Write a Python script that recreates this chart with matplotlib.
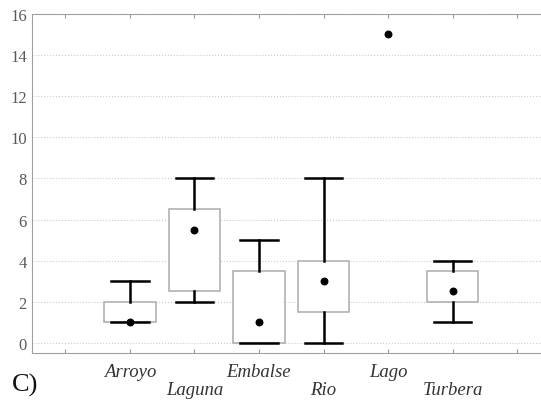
import matplotlib
matplotlib.use("Agg")
from matplotlib import pyplot as plt

cats = ["Arroyo", "Laguna", "Embalse", "Rio", "Lago", "Turbera"]
medians = [1, 5.5, 1, 3, 15, 2.5]
q1 = [1, 2.5, 0, 1.5, 15, 2]
q3 = [2, 6.5, 3.5, 4, 15, 3.5]
mins = [1, 2, 0, 0, 15, 1]
maxs = [3, 8, 5, 8, 15, 4]

pos = list(range(1, len(cats) + 1))

fig = plt.figure(figsize=(5.41, 4.02), dpi=100)
ax = fig.add_axes([0.06, 0.119, 0.94, 0.844])

stats = []
bpos = []
for i in range(len(cats)):
    # a group with a single value gets only its dot
    if q1[i] == q3[i] and mins[i] == maxs[i]:
        continue
    stats.append({"med": medians[i], "q1": q1[i], "q3": q3[i],
                  "whislo": mins[i], "whishi": maxs[i], "label": cats[i]})
    bpos.append(pos[i])

ax.bxp(stats, positions=bpos, widths=0.8, showfliers=False, patch_artist=True,
       boxprops=dict(facecolor="white", edgecolor="#ababab", linewidth=1.1),
       whiskerprops=dict(color="black", linewidth=1.8),
       capprops=dict(color="black", linewidth=1.8),
       capwidths=0.58,
       medianprops=dict(linewidth=0, color="none"), zorder=3)
ax.scatter(pos, medians, s=22, color="black", zorder=5)

ax.set_xlim(-0.51, 7.37)
ax.set_ylim(-0.5, 16)
ax.set_yticks(range(0, 17, 2))
ax.yaxis.grid(True, linestyle=":", color="#cccccc", linewidth=0.8)
ax.set_axisbelow(True)

ax.set_xticks(range(0, 8))
labels = [""] + [c if i % 2 == 0 else "\n" + c for i, c in enumerate(cats)] + [""]
ax.set_xticklabels(labels, fontfamily="Liberation Serif", fontstyle="italic",
                   fontsize=13.5, color="#333333", linespacing=1.05)
ax.tick_params(axis="x", direction="in", length=3, color="#999999", top=True, pad=7)
ax.tick_params(axis="y", length=0, pad=4, labelcolor="#5a5a5a", labelsize=12)
for lab in ax.get_yticklabels():
    lab.set_fontfamily("Liberation Serif")

for sp in ax.spines.values():
    sp.set_color("#a0a0a0")
ax.spines["right"].set_visible(False)

fig.text(0.022, 0.025, "C)", fontfamily="Liberation Serif", fontsize=19, color="#111111")

fig.savefig("out.png", dpi=100)
